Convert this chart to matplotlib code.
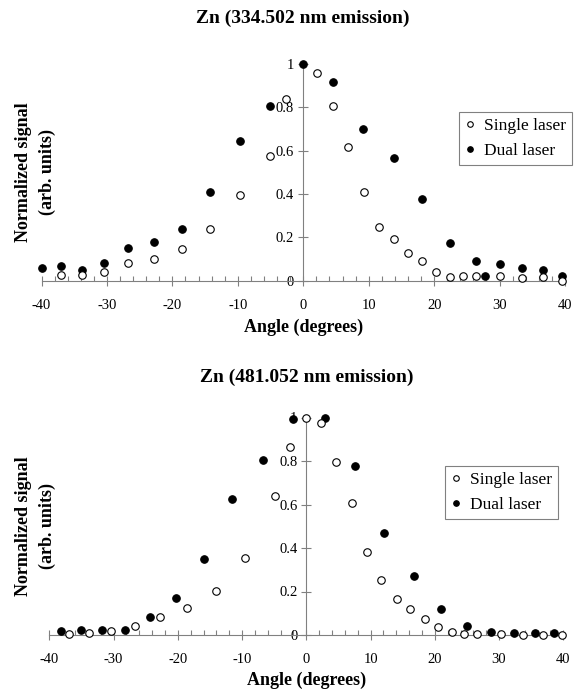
import matplotlib
matplotlib.use("Agg")
import matplotlib.pyplot as plt
from matplotlib.lines import Line2D
from matplotlib.ticker import MultipleLocator

plt.rcParams['font.family'] = ['Liberation Serif', 'DejaVu Serif']

# --- Zn 334.502 nm ---
ang_334_single = [-37.0, -33.8, -30.4, -26.8, -22.8, -18.6, -14.2, -9.7, -5.1, -2.6,
                  2.1, 4.5, 6.9, 9.3, 11.5, 13.9, 16.0, 18.2, 20.3, 22.4, 24.4, 26.4,
                  30.0, 33.5, 36.7, 39.6]
sig_334_single = [0.026, 0.026, 0.038, 0.083, 0.100, 0.147, 0.237, 0.395, 0.575, 0.840,
                  0.957, 0.805, 0.617, 0.410, 0.247, 0.190, 0.127, 0.088, 0.040, 0.018,
                  0.019, 0.019, 0.019, 0.012, 0.018, 0.0]
ang_334_dual = [-39.9, -37.0, -33.8, -30.4, -26.8, -22.8, -18.6, -14.2, -9.7, -5.1, 0.0,
                4.5, 9.1, 13.8, 18.2, 22.4, 26.4, 27.8, 30.0, 33.5, 36.7, 39.6]
sig_334_dual = [0.057, 0.065, 0.049, 0.080, 0.150, 0.180, 0.240, 0.410, 0.645, 0.805, 1.0,
                0.917, 0.700, 0.565, 0.377, 0.175, 0.090, 0.023, 0.078, 0.060, 0.050, 0.022]

# --- Zn 481.052 nm ---
ang_481_single = [-36.9, -33.8, -30.4, -26.7, -22.8, -18.5, -14.1, -9.5, -4.9, -2.5, 0.0,
                  2.3, 4.7, 7.1, 9.4, 11.7, 14.1, 16.2, 18.4, 20.5, 22.6, 24.6, 26.6,
                  30.3, 33.7, 36.9, 39.8]
sig_481_single = [0.005, 0.008, 0.020, 0.043, 0.081, 0.123, 0.204, 0.353, 0.640, 0.863, 1.0,
                  0.975, 0.797, 0.605, 0.383, 0.253, 0.167, 0.118, 0.072, 0.035, 0.012,
                  0.005, 0.003, 0.003, 0.0, 0.0, 0.0]
ang_481_dual = [-38.2, -35.1, -31.8, -28.2, -24.3, -20.3, -16.0, -11.5, -6.7, -2.0, 2.9,
                7.6, 12.1, 16.7, 20.9, 25.0, 28.8, 32.4, 35.6, 38.6]
sig_481_dual = [0.020, 0.021, 0.023, 0.024, 0.082, 0.169, 0.348, 0.625, 0.803, 0.992, 1.0,
                0.775, 0.470, 0.273, 0.121, 0.043, 0.015, 0.011, 0.011, 0.008]

x_ticks = [-40, -30, -20, -10, 0, 10, 20, 30, 40]
y_ticks = [0, 0.2, 0.4, 0.6, 0.8, 1.0]
y_tick_labels = ['0', '0.2', '0.4', '0.6', '0.8', '1']

W, H = 583, 690
GRAY = '#808080'
TICK_FS = 10.5

fig = plt.figure(figsize=(W / 100, H / 100), dpi=100)


def panel(rect_px, a_s, s_s, a_d, s_d, title, title_y, xlab_y, leg_px, xpad):
    x0, x1, ytop, ybot = rect_px
    ax = fig.add_axes([x0 / W, 1 - ybot / H, (x1 - x0) / W, (ybot - ytop) / H])
    ax.plot(a_d, s_d, 'o', ms=5.4, mfc='black', mec='black', mew=0.8,
            ls='none', clip_on=False, zorder=3)
    ax.plot(a_s, s_s, 'o', ms=5.4, mfc='white', mec='black', mew=0.8,
            ls='none', clip_on=False, zorder=4)
    ax.set_xlim(-40, 40)
    ax.set_ylim(0, 1)
    for s in ['top', 'right']:
        ax.spines[s].set_visible(False)
    ax.spines['left'].set_position(('data', 0))
    for s in ['left', 'bottom']:
        ax.spines[s].set_color(GRAY)
        ax.spines[s].set_linewidth(0.8)
    ax.set_xticks(x_ticks)
    ax.set_xticklabels([str(v) for v in x_ticks])
    ax.xaxis.set_minor_locator(MultipleLocator(2))
    ax.set_yticks(y_ticks)
    ax.set_yticklabels(y_tick_labels)
    ax.tick_params(axis='x', which='major', direction='inout', length=7, width=0.8,
                   color=GRAY, labelsize=TICK_FS, pad=xpad)
    ax.tick_params(axis='x', which='minor', direction='in', length=3.5, width=0.8, color=GRAY)
    ax.tick_params(axis='y', which='major', direction='inout', length=7, width=0.8,
                   color=GRAY, labelsize=TICK_FS, pad=3)

    xc = (x0 + x1) / 2
    fig.text(xc / W, 1 - title_y / H, title, ha='center', va='center',
             fontsize=14, fontweight='bold')
    fig.text(xc / W, 1 - xlab_y / H, 'Angle (degrees)', ha='center', va='center',
             fontsize=13, fontweight='bold')
    fig.text(35.5 / W, 1 - (ytop + ybot) / 2 / H, 'Normalized signal\n(arb. units)',
             ha='center', va='center', rotation=90, fontsize=13, fontweight='bold',
             multialignment='center', linespacing=1.55)

    handles = [Line2D([], [], marker='o', ls='none', ms=4, mfc='white', mec='black', mew=0.8),
               Line2D([], [], marker='o', ls='none', ms=4, mfc='black', mec='black', mew=0.8)]
    leg = ax.legend(handles, ['Single laser', 'Dual laser'], loc='upper right',
                    bbox_to_anchor=(leg_px[0] / W, 1 - leg_px[1] / H),
                    bbox_transform=fig.transFigure, borderaxespad=0, fontsize=12.5,
                    fancybox=False, framealpha=1, edgecolor=GRAY, handlelength=0.6,
                    handletextpad=0.5, borderpad=0.35, labelspacing=0.5)
    leg.get_frame().set_linewidth(0.8)
    return ax


panel((41.5, 565, 64, 280.5), ang_334_single, sig_334_single, ang_334_dual, sig_334_dual,
      'Zn (334.502 nm emission)', 18, 327, (572, 112), 10)
panel((49.3, 563.3, 417.5, 635), ang_481_single, sig_481_single, ang_481_dual, sig_481_dual,
      'Zn (481.052 nm emission)', 377, 680, (558, 466), 9.5)

fig.savefig('out.png', dpi=100)
